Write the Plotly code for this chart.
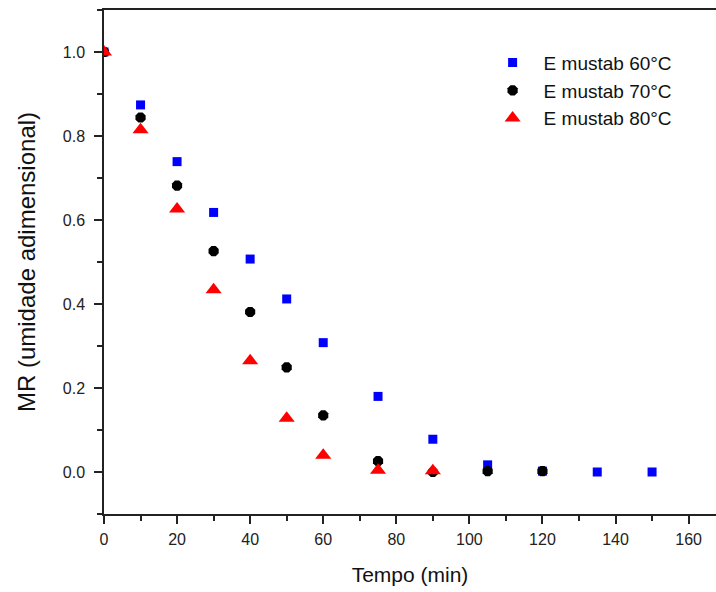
import plotly.graph_objects as go

t60 = [0, 10, 20, 30, 40, 50, 60, 75, 90, 105, 120, 135, 150]
mr60 = [1.0, 0.874, 0.739, 0.618, 0.507, 0.412, 0.308, 0.18, 0.078, 0.017, 0.002, 0.0, 0.0]

t70 = [0, 10, 20, 30, 40, 50, 60, 75, 90, 105, 120]
mr70 = [1.0, 0.844, 0.682, 0.526, 0.381, 0.249, 0.135, 0.026, 0.0, 0.002, 0.002]

t80 = [0, 10, 20, 30, 40, 50, 60, 75, 90]
mr80 = [1.0, 0.815, 0.626, 0.434, 0.265, 0.128, 0.04, 0.004, 0.003]

names = ["E mustab 60°C", "E mustab 70°C", "E mustab 80°C"]

FONT = "Liberation Sans, Arial"

fig = go.Figure()
fig.add_trace(go.Scatter(x=t60, y=mr60, mode="markers", name=names[0],
                         marker=dict(symbol="square", size=9, color="#0000ff")))
fig.add_trace(go.Scatter(x=t70, y=mr70, mode="markers", name=names[1],
                         marker=dict(symbol="octagon", size=11, color="#000000")))
fig.add_trace(go.Scatter(x=t80, y=mr80, mode="markers", name=names[2],
                         marker=dict(symbol="triangle-up", size=14, color="#ff0000")))

axis_common = dict(
    showgrid=False, zeroline=False, showline=True, linecolor="#222", linewidth=1.5,
    mirror=True, ticks="outside", ticklen=8, tickwidth=1.5, tickcolor="#222",
    tickfont=dict(family=FONT, size=16, color="#222"), automargin=False,
)

fig.update_xaxes(range=[0, 167.5], dtick=20, tick0=0, ticklabelstandoff=2,
                 minor=dict(ticks="outside", ticklen=5, tickwidth=1.5, dtick=10, tickcolor="#222"),
                 title=dict(text="Tempo (min)", font=dict(family=FONT, size=21, color="#111"), standoff=20),
                 **axis_common)
fig.update_yaxes(range=[-0.1, 1.1], tickvals=[0.0, 0.2, 0.4, 0.6, 0.8, 1.0],
                 ticktext=["0.0", "0.2", "0.4", "0.6", "0.8", "1.0"], ticklabelstandoff=6,
                 minor=dict(ticks="outside", ticklen=5, tickwidth=1.5, dtick=0.1, tick0=0, tickcolor="#222"),
                 title=dict(text="MR (umidade adimensional)", font=dict(family=FONT, size=24, color="#111"), standoff=20),
                 **axis_common)

fig.update_layout(
    width=716, height=592,
    margin=dict(l=104, r=0, t=10, b=78),
    plot_bgcolor="white", paper_bgcolor="white",
    showlegend=True,
    legend=dict(x=0.617, y=0.933, xanchor="left", yanchor="top",
                font=dict(family=FONT, size=19, color="#111"),
                bgcolor="rgba(0,0,0,0)", itemwidth=52),
)

fig.write_html("out.html", config={"displayModeBar": False},
               post_script="document.body.style.margin='0';")
